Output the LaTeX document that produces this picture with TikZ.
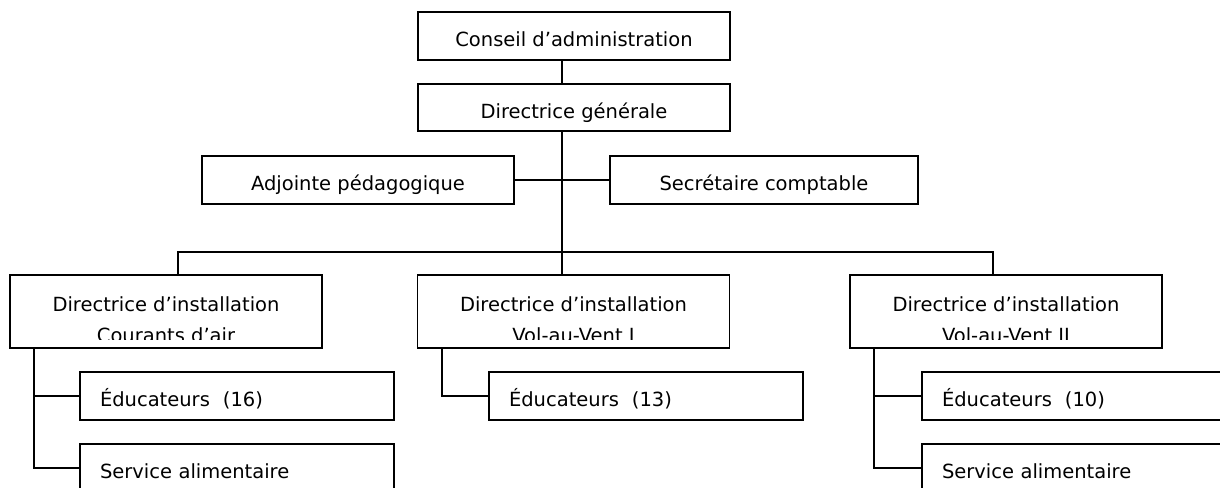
\documentclass[tikz,border=0pt]{standalone}
\usepackage{fontspec}
\setmainfont{DejaVu Sans}
\begin{document}
\begin{tikzpicture}[x=1pt,y=-1pt,
  box/.style={draw, rectangle, inner sep=0pt, line width=1.8pt,
    font=\fontsize{19.5}{31}\selectfont, text height=21, text depth=0},
  dirbox/.style={box, minimum width=312, minimum height=73, align=center,
    text height=62, text depth=1},
  subbox/.style={draw, rectangle, line width=1.8pt, inner xsep=20, inner ysep=0,
    text width=274, minimum height=48, align=left,
    font=\fontsize{19.5}{31}\selectfont, text height=21, text depth=0},
  conn/.style={draw, line width=1.8pt}]
\useasboundingbox (0,0) rectangle (1220,487);
\clip (0,0) rectangle (1220,487);

% top levels
\node[box, minimum width=312, minimum height=48] (ca) at (574,36) {Conseil d’administration};
\node[box, minimum width=312, minimum height=47] (dg) at (574,107.5) {Directrice générale};
\node[box, minimum width=312, minimum height=48] (adj) at (358,180) {Adjointe pédagogique};
\node[box, minimum width=308, minimum height=48] (sec) at (764,180) {Secrétaire comptable};

% installation boxes, second text line cut at the bottom as in the reference
\begin{scope}
  \clip (-20,-20) rectangle (1240,510)
    (11.5,339.5) -- (320.5,339.5) -- (320.5,346.5) -- (11.5,346.5) -- cycle
    (418.5,339.5) -- (728.5,339.5) -- (728.5,346.5) -- (418.5,346.5) -- cycle
    (851.5,339.5) -- (1160.5,339.5) -- (1160.5,346.5) -- (851.5,346.5) -- cycle;
  \node[dirbox] (c1) at (166,311.5) {Directrice d’installation\\Courants d’air};
  \node[dirbox] (c2) at (573.5,311.5) {Directrice d’installation\\Vol-au-Vent I};
  \node[dirbox] (c3) at (1006,311.5) {Directrice d’installation\\Vol-au-Vent II};
\end{scope}

% staff boxes
\node[subbox] (e1) at (237,396) {Éducateurs\ \ (16)};
\node[subbox] (s1) at (237,468) {Service alimentaire};
\node[subbox] (e2) at (646,396) {Éducateurs\ \ (13)};
\node[subbox] (e3) at (1079,396) {Éducateurs\ \ (10)};
\node[subbox] (s3) at (1079,468) {Service alimentaire};

% connectors
\coordinate (t) at (562,0);
\coordinate (b1) at (178,252);
\coordinate (b3) at (993,252);
\coordinate (v1) at (34,0);
\coordinate (v2) at (442,0);
\coordinate (v3) at (874,0);

\draw[conn] (ca.south -| t) -- (dg.north -| t);
\draw[conn] (dg.south -| t) -- (c2.north -| t);
\draw[conn] (adj.east) -- (sec.west);
\draw[conn] (c1.north -| b1) -- (b1) -- (b3) -- (c3.north -| b3);

\draw[conn] (c1.south -| v1) |- (s1.west);
\draw[conn] (v1 |- e1.west) -- (e1.west);
\draw[conn] (c2.south -| v2) |- (e2.west);
\draw[conn] (c3.south -| v3) |- (s3.west);
\draw[conn] (v3 |- e3.west) -- (e3.west);
\end{tikzpicture}
\end{document}
